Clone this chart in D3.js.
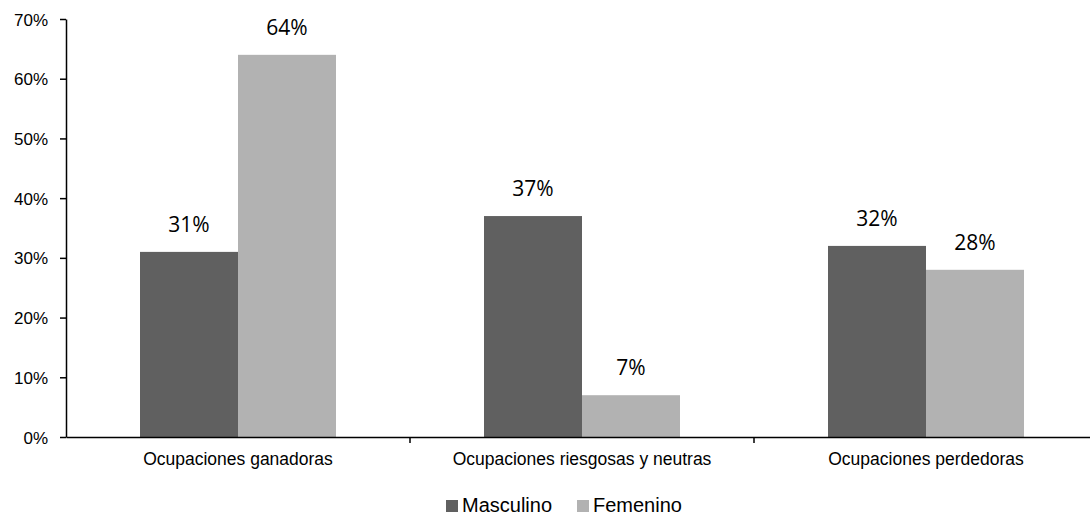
<!DOCTYPE html>
<html>
<head>
<meta charset="utf-8">
<script src="https://cdn.jsdelivr.net/npm/d3@7"></script>
<style>
  body { margin: 0; background: #fff; }
  svg text { fill: #000; }
</style>
</head>
<body>
<svg id="chart" width="1090" height="517"></svg>
<script>
// data
const categories = ["Ocupaciones ganadoras", "Ocupaciones riesgosas y neutras", "Ocupaciones perdedoras"];
const seriesNames = ["Masculino", "Femenino"];
const masculino = [31, 37, 32];
const femenino = [64, 7, 28];
const yTicks = [0, 10, 20, 30, 40, 50, 60, 70];
const colors = ["#606060", "#b2b2b2"];

const svg = d3.select("#chart");
const margin = { top: 19, left: 66 };
const plotRight = 1098;
const plotBottom = 437;
const sansFont = "Arial, 'Liberation Sans', sans-serif";

const x = d3.scaleBand().domain(categories).range([margin.left, plotRight]);
const y = d3.scaleLinear().domain([0, 70]).range([plotBottom, margin.top]);
const barW = 98;

const rows = categories.map((c, i) => ({ cat: c, vals: [masculino[i], femenino[i]] }));

// bars + value labels
const g = svg.append("g");
rows.forEach(r => {
  const cx = x(r.cat) + x.bandwidth() / 2;
  r.vals.forEach((v, j) => {
    const bx = cx - barW + j * barW;
    g.append("rect")
      .attr("x", bx)
      .attr("y", y(v))
      .attr("width", barW)
      .attr("height", plotBottom - y(v))
      .attr("fill", colors[j]);
    g.append("text")
      .attr("x", bx + barW / 2)
      .attr("y", y(v) - 20)
      .attr("text-anchor", "middle")
      .style("font-family", "'Open Sans', sans-serif")
      .style("font-size", "21px")
      .text(v + "%");
  });
});

// y axis
const yAxis = svg.append("g")
  .attr("transform", `translate(${margin.left},0)`)
  .call(d3.axisLeft(y).tickValues(yTicks).tickFormat(d => d + "%").tickSize(6).tickSizeOuter(0));
yAxis.select(".domain").attr("stroke", "#000").attr("stroke-width", 1.5);
yAxis.selectAll(".tick line").attr("stroke", "#000").attr("stroke-width", 1.5);
yAxis.selectAll(".tick text")
  .attr("x", -18)
  .attr("dy", "0.36em")
  .style("font-family", sansFont)
  .style("font-size", "17px")
  .attr("fill", "#000");

// x axis
const xAxis = svg.append("g")
  .attr("transform", `translate(0,${plotBottom})`)
  .call(d3.axisBottom(x).tickSize(0).tickSizeOuter(0));
xAxis.select(".domain").attr("stroke", "#000").attr("stroke-width", 1.5);
xAxis.selectAll(".tick text")
  .attr("y", 28)
  .attr("dy", 0)
  .style("font-family", sansFont)
  .style("font-size", "17.5px")
  .attr("fill", "#000");
// category separators
xAxis.selectAll("line.sep")
  .data(categories.slice(1))
  .enter().append("line")
  .attr("class", "sep")
  .attr("x1", d => x(d)).attr("x2", d => x(d))
  .attr("y1", 0).attr("y2", 6)
  .attr("stroke", "#000").attr("stroke-width", 1.5);

// legend
const legend = svg.append("g").attr("transform", "translate(0,512)");
const legendX = [446, 577];
seriesNames.forEach((s, i) => {
  legend.append("rect")
    .attr("x", legendX[i]).attr("y", -12)
    .attr("width", 12).attr("height", 12)
    .attr("fill", colors[i]);
  legend.append("text")
    .attr("x", legendX[i] + 16).attr("y", 0)
    .style("font-family", sansFont)
    .style("font-size", "20px")
    .text(s);
});
</script>
</body>
</html>
